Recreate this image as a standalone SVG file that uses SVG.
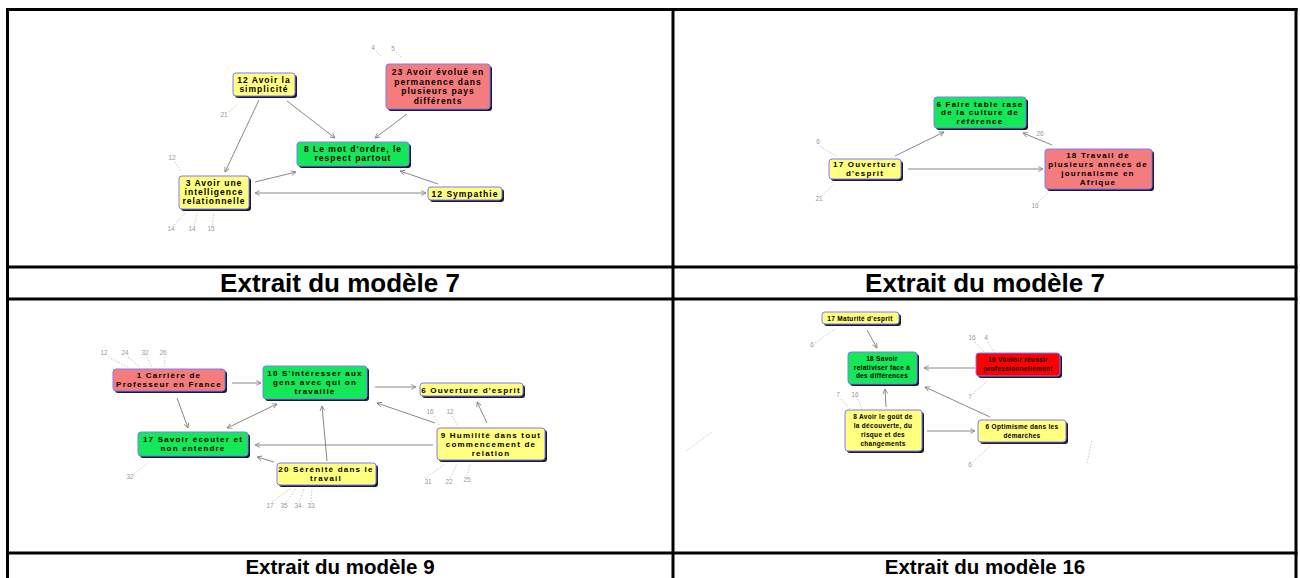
<svg xmlns="http://www.w3.org/2000/svg" width="1300" height="578" viewBox="0 0 1300 578">
<style>
.grid{stroke:#000;stroke-width:3;fill:none}
.cap{font-family:"Liberation Sans",Arial,sans-serif;font-weight:bold;font-size:26px;fill:#000;text-anchor:middle}
.capb{font-size:20.5px}
.box{stroke:#7a7aff;stroke-width:1}
.sh{fill:#1a1a33}
.y{fill:#ffff80}
.p{fill:#f47c7c}
.g{fill:#14e858}
.r{fill:#ff0000}
.t{font-family:"Liberation Sans",Arial,sans-serif;font-weight:bold;font-size:8px;letter-spacing:1.2px;fill:#000;text-anchor:middle}
.t1{font-size:8.5px;letter-spacing:1px}
.t4{font-size:6.5px;letter-spacing:0.3px}
.e{stroke:#888;stroke-width:1;fill:none}
.lbl{font-family:"Liberation Sans",Arial,sans-serif;font-size:6.5px;fill:#999;text-anchor:middle}
.ld{stroke:#bbb;stroke-width:0.8;stroke-dasharray:1.5 1.5;fill:none}
</style>
<defs>
<marker id="ah" viewBox="0 0 10 10" refX="9" refY="5" markerWidth="6" markerHeight="6" orient="auto-start-reverse">
<path d="M1,1 L9,5 L1,9" fill="none" stroke="#888" stroke-width="1.5"/>
</marker>
</defs>
<rect width="1300" height="578" fill="#fff"/>

<g id="table">
<line class="grid" x1="6" y1="9.5" x2="1297.5" y2="9.5"/>
<line class="grid" x1="7.5" y1="8" x2="7.5" y2="578"/>
<line class="grid" x1="673" y1="8" x2="673" y2="578"/>
<line class="grid" x1="1296" y1="8" x2="1296" y2="578"/>
<line class="grid" x1="6" y1="267" x2="1297.5" y2="267"/>
<line class="grid" x1="6" y1="299" x2="1297.5" y2="299"/>
<line class="grid" x1="6" y1="553" x2="1297.5" y2="553"/>
<text class="cap" x="340" y="292">Extrait du modèle 7</text>
<text class="cap" x="985" y="292">Extrait du modèle 7</text>
<text class="cap capb" x="340" y="573.5">Extrait du modèle 9</text>
<text class="cap capb" x="985" y="573.5">Extrait du modèle 16</text>
</g>

<g id="connectors">
<line class="e" x1="259" y1="100" x2="225" y2="172" marker-end="url(#ah)"/>
<line class="e" x1="287" y1="101" x2="335" y2="138" marker-end="url(#ah)"/>
<line class="e" x1="407" y1="114" x2="375" y2="138" marker-end="url(#ah)"/>
<line class="e" x1="255" y1="182" x2="296" y2="172" marker-end="url(#ah)"/>
<line class="e" x1="255" y1="193" x2="426" y2="193" marker-start="url(#ah)" marker-end="url(#ah)"/>
<line class="e" x1="438" y1="184" x2="400" y2="171" marker-end="url(#ah)"/>

<line class="e" x1="895" y1="156" x2="944" y2="132" marker-end="url(#ah)"/>
<line class="e" x1="908" y1="169" x2="1043" y2="169" marker-end="url(#ah)"/>
<line class="e" x1="1052" y1="145" x2="1023" y2="133" marker-end="url(#ah)"/>

<line class="e" x1="232" y1="383" x2="261" y2="383" marker-end="url(#ah)"/>
<line class="e" x1="177" y1="398" x2="188" y2="428" marker-end="url(#ah)"/>
<line class="e" x1="227" y1="428" x2="277" y2="404" marker-start="url(#ah)" marker-end="url(#ah)"/>
<line class="e" x1="375" y1="387" x2="416" y2="387" marker-end="url(#ah)"/>
<line class="e" x1="377" y1="403" x2="435" y2="423" marker-start="url(#ah)"/>
<line class="e" x1="487" y1="423" x2="477" y2="402" marker-end="url(#ah)"/>
<line class="e" x1="433" y1="445" x2="255" y2="445" marker-end="url(#ah)"/>
<line class="e" x1="327" y1="461" x2="322" y2="406" marker-end="url(#ah)"/>
<line class="e" x1="274" y1="462" x2="257" y2="457" marker-end="url(#ah)"/>

<line class="e" x1="867" y1="330" x2="877" y2="348" marker-end="url(#ah)"/>
<line class="e" x1="975" y1="368" x2="924" y2="368" marker-end="url(#ah)"/>
<line class="e" x1="886" y1="407" x2="885" y2="389" marker-end="url(#ah)"/>
<line class="e" x1="990" y1="417" x2="925" y2="387" marker-end="url(#ah)"/>
<line class="e" x1="927" y1="431" x2="975" y2="431" marker-end="url(#ah)"/>
</g>

<g id="small-labels">
<text class="lbl" x="373" y="50">4</text><text class="lbl" x="393" y="51">5</text>
<path class="ld" d="M376,51 L382,57 M396,52 L402,58"/>
<text class="lbl" x="224" y="117">21</text><path class="ld" d="M229,112 L238,104"/>
<text class="lbl" x="172" y="160">12</text><path class="ld" d="M175,162 L181,172"/>
<text class="lbl" x="171" y="231">14</text><text class="lbl" x="192" y="231">14</text><text class="lbl" x="211" y="231">15</text>
<path class="ld" d="M174,225 L185,213 M194,225 L198,213 M212,225 L214,213"/>

<text class="lbl" x="818" y="144">6</text><path class="ld" d="M820,146 L836,156"/>
<text class="lbl" x="819" y="201">21</text><path class="ld" d="M822,196 L834,184"/>
<text class="lbl" x="1040" y="136">26</text>
<text class="lbl" x="1035" y="208">16</text><path class="ld" d="M1038,202 L1048,193"/>

<text class="lbl" x="104" y="355">12</text><text class="lbl" x="125" y="355">24</text><text class="lbl" x="145" y="355">32</text><text class="lbl" x="163" y="355">26</text>
<path class="ld" d="M108,357 L128,367 M128,357 L140,367 M147,357 L152,367 M165,357 L164,367"/>
<text class="lbl" x="130" y="479">32</text><path class="ld" d="M134,474 L150,461"/>
<text class="lbl" x="430" y="414">16</text><text class="lbl" x="450" y="414">12</text>
<path class="ld" d="M434,416 L440,426 M452,416 L458,426"/>
<text class="lbl" x="428" y="484">31</text><text class="lbl" x="449" y="484">22</text><text class="lbl" x="467" y="482">25</text>
<path class="ld" d="M425,478 L445,464 M450,478 L457,464 M467,476 L470,464"/>
<text class="lbl" x="270" y="508">17</text><text class="lbl" x="284" y="508">35</text><text class="lbl" x="298" y="508">34</text><text class="lbl" x="311" y="508">33</text>
<path class="ld" d="M272,502 L290,489 M286,502 L296,489 M299,502 L304,489 M311,502 L312,489"/>

<text class="lbl" x="812" y="347">6</text><path class="ld" d="M815,343 L835,329"/>
<text class="lbl" x="972" y="340">16</text><text class="lbl" x="986" y="340">4</text>
<path class="ld" d="M975,342 L984,352 M988,342 L994,352"/>
<text class="lbl" x="970" y="399">7</text><path class="ld" d="M973,394 L988,380"/>
<text class="lbl" x="838" y="397">7</text><text class="lbl" x="855" y="397">16</text>
<path class="ld" d="M841,399 L850,409 M858,399 L862,409"/>
<text class="lbl" x="970" y="467">6</text><path class="ld" d="M973,462 L990,446"/>
<path class="ld" d="M686,451 L712,432"/>
<path class="ld" d="M1087,463 L1092,440"/>
</g>

<g id="n1-simplicite">
<rect class="sh" x="235" y="75" width="62" height="23" rx="3"/>
<rect class="box y" x="233" y="73" width="62" height="23" rx="3"/>
<text class="t t1" x="264" y="83">12 Avoir la</text><text class="t t1" x="264" y="92">simplicité</text>
</g>
<g id="n1-evolue">
<rect class="sh" x="388" y="66" width="104" height="45" rx="3"/>
<rect class="box p" x="386" y="64" width="104" height="45" rx="3"/>
<text class="t t1" x="438" y="75">23 Avoir évolué en</text><text class="t t1" x="438" y="84.5">permanence dans</text><text class="t t1" x="438" y="94">plusieurs pays</text><text class="t t1" x="438" y="103.5">différents</text>
</g>
<g id="n1-respect">
<rect class="sh" x="299" y="144" width="112" height="24" rx="3"/>
<rect class="box g" x="297" y="142" width="112" height="24" rx="3"/>
<text class="t t1" x="353" y="152">8 Le mot d'ordre, le</text><text class="t t1" x="353" y="161">respect partout</text>
</g>
<g id="n1-intelligence">
<rect class="sh" x="181" y="178" width="70" height="33" rx="3"/>
<rect class="box y" x="179" y="176" width="70" height="33" rx="3"/>
<text class="t t1" x="214" y="186">3 Avoir une</text><text class="t t1" x="214" y="195">intelligence</text><text class="t t1" x="214" y="204">relationnelle</text>
</g>
<g id="n1-sympathie">
<rect class="sh" x="430" y="189" width="74" height="13" rx="3"/>
<rect class="box y" x="428" y="187" width="74" height="13" rx="3"/>
<text class="t t1" x="465" y="196.5">12 Sympathie</text>
</g>

<g id="n2-table-rase">
<rect class="sh" x="936" y="99" width="92" height="31" rx="3"/>
<rect class="box g" x="934" y="97" width="92" height="31" rx="3"/>
<text class="t" x="980" y="106.5">6 Faire table rase</text><text class="t" x="980" y="115">de la culture de</text><text class="t" x="980" y="123.5">référence</text>
</g>
<g id="n2-ouverture">
<rect class="sh" x="831" y="161" width="72" height="20" rx="3"/>
<rect class="box y" x="829" y="159" width="72" height="20" rx="3"/>
<text class="t" x="865" y="167">17 Ouverture</text><text class="t" x="865" y="175.5">d'esprit</text>
</g>
<g id="n2-journalisme">
<rect class="sh" x="1047" y="151" width="107" height="40" rx="3"/>
<rect class="box p" x="1045" y="149" width="107" height="40" rx="3"/>
<text class="t" x="1098" y="158">18 Travail de</text><text class="t" x="1098" y="167">plusieurs années de</text><text class="t" x="1098" y="176">journalisme en</text><text class="t" x="1098" y="185">Afrique</text>
</g>

<g id="n3-carriere">
<rect class="sh" x="115" y="371" width="112" height="22" rx="3"/>
<rect class="box p" x="113" y="369" width="112" height="22" rx="3"/>
<text class="t" x="169" y="378">1 Carrière de</text><text class="t" x="169" y="387">Professeur en France</text>
</g>
<g id="n3-interesser">
<rect class="sh" x="265" y="368" width="104" height="33" rx="3"/>
<rect class="box g" x="263" y="366" width="104" height="33" rx="3"/>
<text class="t" x="315" y="375.5">10 S'intéresser aux</text><text class="t" x="315" y="384.5">gens avec qui on</text><text class="t" x="315" y="393.5">travaille</text>
</g>
<g id="n3-ouverture">
<rect class="sh" x="422" y="385" width="103" height="13" rx="3"/>
<rect class="box y" x="420" y="383" width="103" height="13" rx="3"/>
<text class="t" x="471" y="392.5">6 Ouverture d'esprit</text>
</g>
<g id="n3-ecouter">
<rect class="sh" x="140" y="434" width="110" height="24" rx="3"/>
<rect class="box g" x="138" y="432" width="110" height="24" rx="3"/>
<text class="t" x="193" y="442">17 Savoir écouter et</text><text class="t" x="193" y="451">non entendre</text>
</g>
<g id="n3-humilite">
<rect class="sh" x="439" y="430" width="108" height="32" rx="3"/>
<rect class="box y" x="437" y="428" width="108" height="32" rx="3"/>
<text class="t" x="491" y="437.5">9 Humilité dans tout</text><text class="t" x="491" y="446.5">commencement de</text><text class="t" x="491" y="455.5">relation</text>
</g>
<g id="n3-serenite">
<rect class="sh" x="279" y="465" width="99" height="22" rx="3"/>
<rect class="box y" x="277" y="463" width="99" height="22" rx="3"/>
<text class="t" x="326" y="472">20 Sérénité dans le</text><text class="t" x="326" y="481">travail</text>
</g>

<g id="n4-maturite">
<rect class="sh" x="824" y="314" width="77" height="12" rx="3"/>
<rect class="box y" x="822" y="312" width="77" height="12" rx="3"/>
<text class="t t4" x="860" y="320.5">17 Maturité d'esprit</text>
</g>
<g id="n4-relativiser">
<rect class="sh" x="850" y="354" width="69" height="32" rx="3"/>
<rect class="box g" x="848" y="352" width="69" height="32" rx="3"/>
<text class="t t4" x="882" y="361">18 Savoir</text><text class="t t4" x="882" y="369.5">relativiser face à</text><text class="t t4" x="882" y="378">des différences</text>
</g>
<g id="n4-reussir">
<rect class="sh" x="978" y="355" width="84" height="23" rx="3"/>
<rect class="box r" x="976" y="353" width="84" height="23" rx="3"/>
<text class="t t4" x="1018" y="362">10 Vouloir réussir</text><text class="t t4" x="1018" y="371">professionnellement</text>
</g>
<g id="n4-decouverte">
<rect class="sh" x="847" y="412" width="77" height="41" rx="3"/>
<rect class="box y" x="845" y="410" width="77" height="41" rx="3"/>
<text class="t t4" x="883" y="419">8 Avoir le goût de</text><text class="t t4" x="883" y="428">la découverte, du</text><text class="t t4" x="883" y="437">risque et des</text><text class="t t4" x="883" y="446">changements</text>
</g>
<g id="n4-optimisme">
<rect class="sh" x="980" y="422" width="88" height="22" rx="3"/>
<rect class="box y" x="978" y="420" width="88" height="22" rx="3"/>
<text class="t t4" x="1022" y="429">6 Optimisme dans les</text><text class="t t4" x="1022" y="438">démarches</text>
</g>
</svg>
